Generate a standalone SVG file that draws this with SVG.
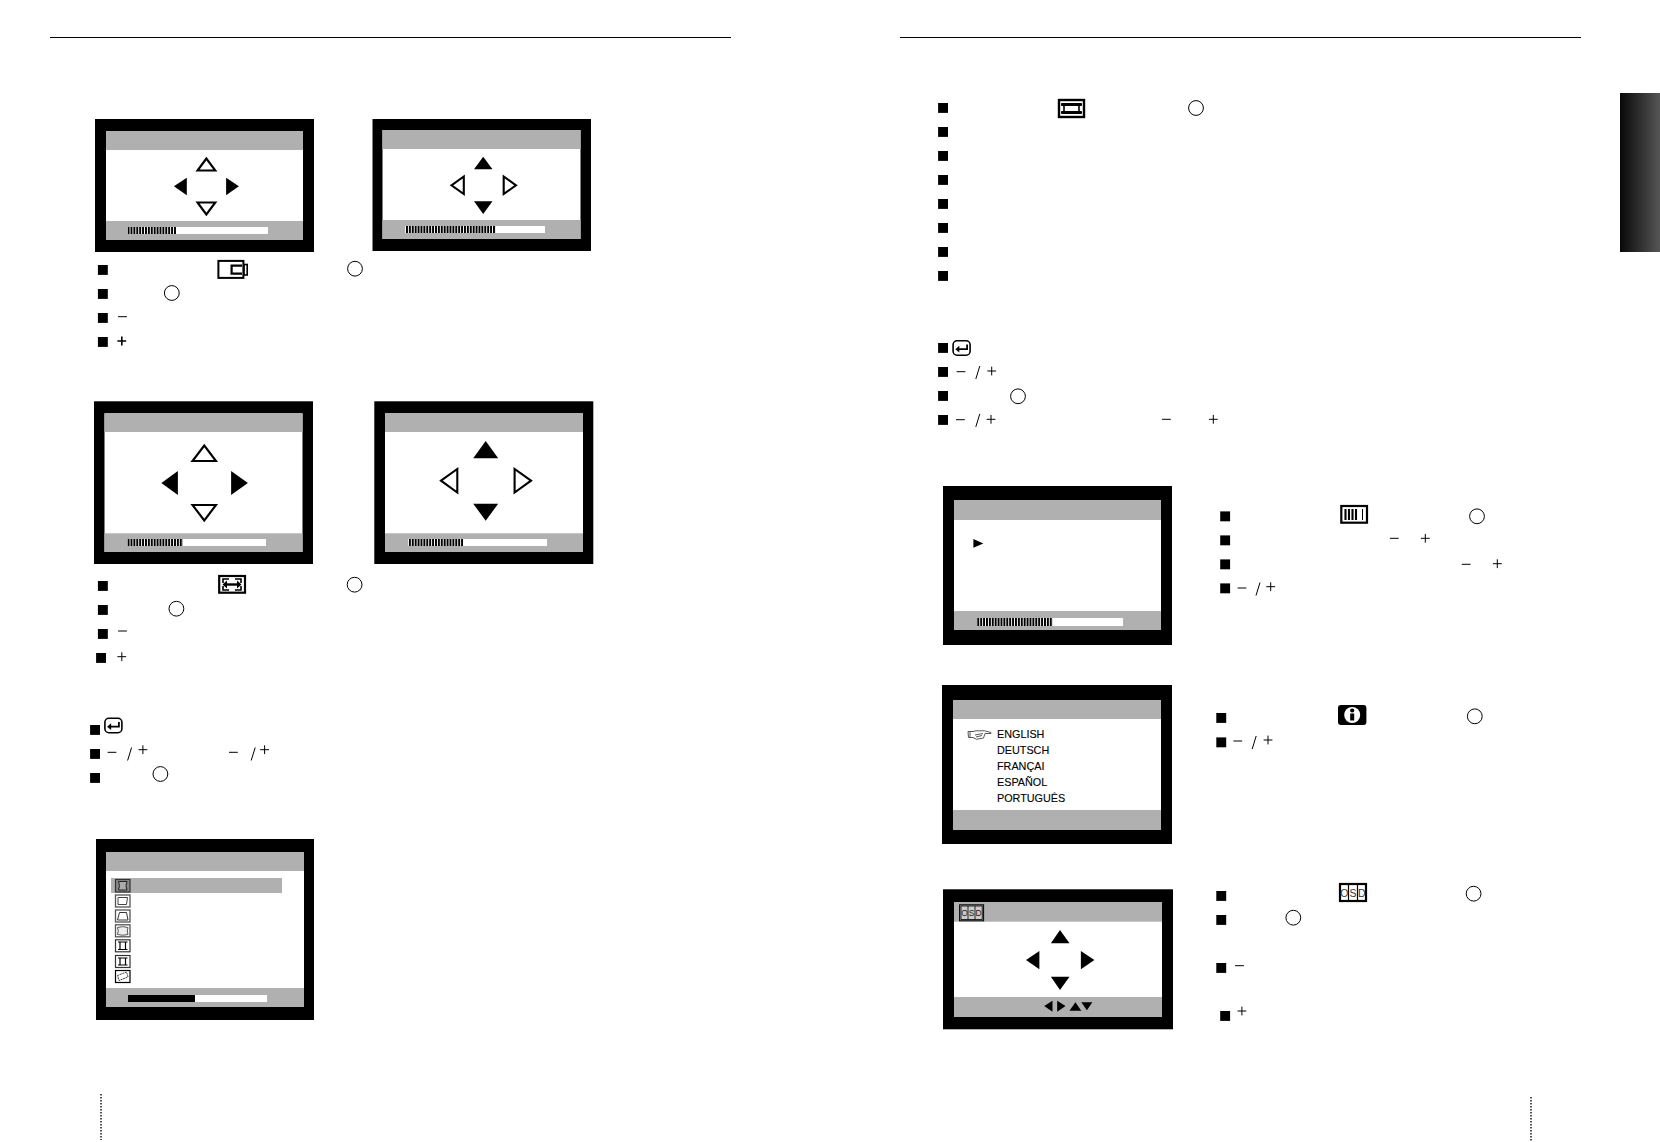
<svg xmlns="http://www.w3.org/2000/svg" width="1660" height="1142" viewBox="0 0 1660 1142">
<style>
.k{fill:#000}
.g{fill:#b0b0b0}
.w{fill:#fff}
.h{fill:url(#hatch)}
.o{fill:#fff;stroke:#000;stroke-width:2.1}
.oo{fill:none;stroke:#000;stroke-width:1}
.i{fill:#fff;stroke:#000;stroke-width:2}
.m{fill:#fff;stroke:#555;stroke-width:1.3}
.s{fill:none;stroke:#000;stroke-width:1}
.d{fill:none;stroke:#333;stroke-width:1.7;stroke-dasharray:1.6 1.4}
.l{font-family:"Liberation Sans",Arial,sans-serif;font-size:10.8px;fill:#000;stroke:#000;stroke-width:.12}
.c{font-family:"Liberation Sans",Arial,sans-serif;font-size:10.5px;fill:#333;text-anchor:middle}
.c2{font-family:"Liberation Sans",Arial,sans-serif;font-size:8.5px;fill:#222;text-anchor:middle}
</style>
<defs>
<pattern id="hatch" patternUnits="userSpaceOnUse" width="2.9" height="10"><rect width="2" height="10" fill="#000"/><rect x="2" width=".9" height="10" fill="#fff"/></pattern>
<linearGradient id="tab" x1="0" x2="1" y1="0" y2="0"><stop offset="0" stop-color="#080808"/><stop offset="1" stop-color="#565656"/></linearGradient>
<rect id="b" x="-.3" y="-.3" width="9.9" height="9.9" fill="#000"/>
<g id="minus"><path class="s" d="M-4.4 0H4.4"/></g>
<g id="plus"><path class="s" d="M-4.4 0H4.4M0-4.4V4.4"/></g>
<g id="slash"><path class="s" d="M-2 6.5L2-6.5"/></g>
<g id="return"><rect x="-8.5" y="-7.2" width="17" height="14.4" rx="4" fill="#fff" stroke="#000" stroke-width="1.6"/><path d="M5.5-3.5V1.2H-4" fill="none" stroke="#000" stroke-width="1.8"/><path d="M-6.3 1.2L-2.3-2.2V4.6Z" fill="#000"/></g>
</defs>
<rect width="1660" height="1142" fill="#fff"/>

<g id="rules">
<rect x="50" y="37" width="681" height="1" fill="#000"/>
<rect x="900" y="37" width="681" height="1" fill="#000"/>
<rect x="1620" y="93" width="40" height="159" fill="url(#tab)"/>
<path class="d" d="M101 1094V1140"/>
<path class="d" d="M1531 1097V1142"/>
</g>

<g id="screen-a">
<rect class="k" x="95" y="119" width="219" height="133"/>
<rect class="w" x="106" y="131" width="197" height="109"/>
<rect class="g" x="106" y="131" width="197" height="19"/>
<rect class="g" x="106" y="221" width="197" height="19"/>
<rect class="w" x="128" y="227" width="140" height="7"/>
<rect class="h" x="128" y="227" width="48" height="7"/>
<path class="o" d="M206.4 158.5L197.5 170.5H215.3Z"/>
<path class="o" d="M206.4 214.5L197.5 202.5H215.3Z"/>
<path class="k" d="M173.9 186.3L186.8 177.7V195.3Z"/>
<path class="k" d="M238.9 186.3L226.1 177.7V195.3Z"/>
</g>

<g id="screen-b">
<rect class="k" x="372.5" y="119" width="218.5" height="132"/>
<rect class="w" x="382.5" y="130" width="198" height="109"/>
<rect class="g" x="382.5" y="130" width="198" height="19"/>
<rect class="g" x="382.5" y="220" width="198" height="19"/>
<rect class="w" x="405" y="226" width="140" height="7"/>
<rect class="h" x="405" y="226" width="91" height="7"/>
<path class="k" d="M483.2 156.7L474 169.3H492.5Z"/>
<path class="k" d="M483.2 214L474 201.3H492.5Z"/>
<path class="o" d="M451.5 185.3L463.8 176.5V194Z"/>
<path class="o" d="M516 185.3L503.7 176.5V194Z"/>
</g>

<g id="list-a">
<use href="#b" x="98.2" y="265.3"/>
<use href="#b" x="98.2" y="289.3"/>
<use href="#b" x="98.2" y="313.3"/>
<use href="#b" x="98.2" y="337.3"/>
<rect class="i" x="218.4" y="260.9" width="25" height="17"/>
<rect x="244" y="264.5" width="3.2" height="10.5" fill="none" stroke="#000" stroke-width="1.6"/>
<path d="M242 265.6H231.6V273.6H242" fill="none" stroke="#000" stroke-width="2.2"/>
<circle class="oo" cx="355" cy="268.7" r="7.4"/>
<circle class="oo" cx="171.8" cy="293" r="7.4"/>
<use href="#minus" x="122.5" y="316.7"/>
<path d="M117.4 341H126.2M121.8 336.6V345.4" fill="none" stroke="#000" stroke-width="1.6"/>
</g>

<g id="screen-c">
<rect class="k" x="94" y="401.3" width="219" height="162.7"/>
<rect class="w" x="104.5" y="413.3" width="198" height="138.7"/>
<rect class="g" x="104.5" y="413.3" width="198" height="18.7"/>
<rect class="g" x="104.5" y="533.3" width="198" height="18.7"/>
<rect class="w" x="127" y="539" width="139" height="7"/>
<rect class="h" x="127" y="539" width="56" height="7"/>
<path class="o" d="M204.3 445.5L192.5 461H216Z"/>
<path class="o" d="M204.3 520.5L192.5 505H216Z"/>
<path class="k" d="M161.4 483L177.9 471V495Z"/>
<path class="k" d="M247.9 483L231.1 471V495Z"/>
</g>

<g id="screen-d">
<rect class="k" x="374.3" y="401.3" width="219" height="162.7"/>
<rect class="w" x="385" y="413.3" width="198" height="138.7"/>
<rect class="g" x="385" y="413.3" width="198" height="18.7"/>
<rect class="g" x="385" y="533.3" width="198" height="18.7"/>
<rect class="w" x="408" y="539" width="139" height="7"/>
<rect class="h" x="408" y="539" width="55" height="7"/>
<path class="k" d="M485.7 441L473.2 458.3H498.2Z"/>
<path class="k" d="M485.7 520.7L473.2 503.7H498.2Z"/>
<path class="o" d="M441 480.7L457.3 469V492.5Z"/>
<path class="o" d="M531 480.7L514.6 469V492.5Z"/>
</g>

<g id="list-b">
<use href="#b" x="98.2" y="581.3"/>
<use href="#b" x="98.2" y="605.3"/>
<use href="#b" x="98.2" y="629.3"/>
<use href="#b" x="96.4" y="653.3"/>
<rect x="219.2" y="576" width="25.8" height="16.7" fill="#fff" stroke="#000" stroke-width="2.2"/>
<path d="M223 583V579H229M235 579H241V583M223 586V590H229M235 590H241V586" fill="none" stroke="#000" stroke-width="1.6"/>
<path d="M225 584.5H239" stroke="#000" stroke-width="2.4"/>
<path d="M222.5 584.5L227 580.5V588.5ZM241.5 584.5L237 580.5V588.5Z" fill="#000"/>
<circle class="oo" cx="354.6" cy="584.7" r="7.4"/>
<circle class="oo" cx="176.4" cy="608.7" r="7.4"/>
<use href="#minus" x="122.5" y="631"/>
<use href="#plus" x="121.8" y="656.7"/>
</g>

<g id="list-c">
<use href="#b" x="90.4" y="725.3"/>
<use href="#b" x="90.4" y="749.3"/>
<use href="#b" x="90.4" y="773.3"/>
<use href="#return" x="113.4" y="725.5"/>
<use href="#minus" x="112" y="752.3"/>
<use href="#slash" x="129.6" y="754"/>
<use href="#plus" x="142.9" y="749.7"/>
<use href="#minus" x="233.4" y="752.3"/>
<use href="#slash" x="253.2" y="754"/>
<use href="#plus" x="264.6" y="749.7"/>
<circle class="oo" cx="160.4" cy="774" r="7.4"/>
</g>

<g id="screen-e">
<rect class="k" x="96" y="839" width="218" height="181"/>
<rect class="w" x="106" y="852" width="198" height="155"/>
<rect class="g" x="106" y="852" width="198" height="19"/>
<rect class="g" x="106" y="988" width="198" height="19"/>
<rect class="w" x="128" y="995" width="139" height="7"/>
<rect class="k" x="128" y="995" width="67" height="7"/>
<rect class="g" x="111" y="878" width="171" height="15"/>
<rect x="115.5" y="879.5" width="14.5" height="12.5" fill="#888" stroke="#333" stroke-width="1.2"/>
<path d="M118.5 881.5Q120.5 885.7 118.5 890H127Q125 885.7 127 881.5Z" fill="#aaa" stroke="#222"/>
<rect class="m" x="115.5" y="895" width="14.5" height="12"/>
<path d="M118 897.5H127.5L126.5 904.5H118Z" fill="#fff" stroke="#444"/>
<rect class="m" x="115.5" y="910" width="14.5" height="12"/>
<path d="M119.5 912.5H126.5L128 920H117.5Z" fill="#fff" stroke="#333"/>
<rect class="m" x="115.5" y="924.8" width="14.5" height="12"/>
<path d="M117.5 927.5Q122.5 925.8 128 927.5Q126.5 931 128 934.5Q122.5 936 117.5 934.5Q119 931 117.5 927.5Z" fill="#eee" stroke="#555"/>
<rect x="115.5" y="939.8" width="14.5" height="12" fill="#fff" stroke="#333" stroke-width="1.2"/>
<path d="M118 942H127.5M118 949.5H127.5M120 942V949.5M125.5 942V949.5" fill="none" stroke="#000" stroke-width="1.2"/>
<rect x="115.5" y="955.5" width="14.5" height="12" fill="#fff" stroke="#333" stroke-width="1.2"/>
<path d="M118 958H127.5M118 965H127.5M120 958V965M125.5 958V965" fill="none" stroke="#000" stroke-width="1.2"/>
<rect x="115.5" y="970.5" width="14.5" height="12" fill="#fff" stroke="#000" stroke-width="1.2"/>
<path d="M117.5 975.5L126.5 972L128 977L119 980.5Z" fill="#fff" stroke="#444" stroke-dasharray="2 .6"/>
</g>

<g id="list-d">
<use href="#b" x="938.4" y="103.3"/>
<use href="#b" x="938.4" y="127.3"/>
<use href="#b" x="938.4" y="151.3"/>
<use href="#b" x="938.4" y="175.3"/>
<use href="#b" x="938.4" y="199.3"/>
<use href="#b" x="938.4" y="223.3"/>
<use href="#b" x="938.4" y="247.3"/>
<use href="#b" x="938.4" y="271.3"/>
<rect x="1059" y="100" width="25" height="17" fill="#fff" stroke="#000" stroke-width="2.4"/>
<path d="M1061.5 103.5H1081.5V105.5H1061.5ZM1061.5 111.5H1081.5V113.5H1061.5Z" fill="#000" stroke="#000"/>
<path d="M1064 105V112M1079 105V112" fill="none" stroke="#000" stroke-width="1.6"/>
<circle class="oo" cx="1196" cy="108" r="7.4"/>
<use href="#b" x="938.4" y="343.3"/>
<use href="#b" x="938.4" y="367.3"/>
<use href="#b" x="938.4" y="391.3"/>
<use href="#b" x="938.4" y="415.3"/>
<use href="#return" x="961.6" y="348"/>
<use href="#minus" x="961" y="371.7"/>
<use href="#slash" x="977.8" y="372.5"/>
<use href="#plus" x="991.7" y="371"/>
<circle class="oo" cx="1018" cy="396.3" r="7.4"/>
<use href="#minus" x="960.4" y="419.7"/>
<use href="#slash" x="977.8" y="420.4"/>
<use href="#plus" x="991" y="419.3"/>
<use href="#minus" x="1166.4" y="419.3"/>
<use href="#plus" x="1213.3" y="419.3"/>
</g>

<g id="screen-f">
<rect class="k" x="943" y="486" width="229" height="159"/>
<rect class="w" x="954" y="500" width="207" height="130"/>
<rect class="g" x="954" y="500" width="207" height="20"/>
<rect class="g" x="954" y="611" width="207" height="19"/>
<rect class="w" x="976" y="618" width="147" height="8"/>
<rect class="h" x="976" y="618" width="76.5" height="8"/>
<path class="k" d="M973.4 539L983.3 543.4L973.4 547.8Z"/>
</g>

<g id="list-f">
<use href="#b" x="1220.5" y="511.7"/>
<use href="#b" x="1220.5" y="535.7"/>
<use href="#b" x="1220.5" y="559.7"/>
<use href="#b" x="1220.5" y="583.7"/>
<rect x="1341.3" y="506" width="25.7" height="16.7" fill="#fff" stroke="#000" stroke-width="2.2"/>
<path d="M1345.5 509V520M1349 509V520M1352.5 509V520M1356 509V520" stroke="#000" stroke-width="2.1" fill="none"/>
<path d="M1362.5 509V520" stroke="#000" stroke-width="1" fill="none"/>
<circle class="oo" cx="1477" cy="516.3" r="7.4"/>
<use href="#minus" x="1394.3" y="538.3"/>
<use href="#plus" x="1425.3" y="538.3"/>
<use href="#minus" x="1466.2" y="564.3"/>
<use href="#plus" x="1497.3" y="563.7"/>
<use href="#minus" x="1242" y="588"/>
<use href="#slash" x="1258" y="589"/>
<use href="#plus" x="1270.7" y="586.7"/>
</g>

<g id="screen-g">
<rect class="k" x="942" y="685" width="230" height="159"/>
<rect class="w" x="953" y="700" width="208" height="130"/>
<rect class="g" x="953" y="700" width="208" height="19"/>
<rect class="g" x="953" y="810" width="208" height="20"/>
<path d="M968 731.5H973L976 730.8H984.5L991 732.5V733.5H985L983.5 738L976.5 739.3L973 737.5H968.5Z" fill="#fff" stroke="#444" stroke-width=".9"/>
<path d="M975 735L983 733.5M976 737L982 735.5M970 732V737" stroke="#444" stroke-width=".9" fill="none"/>
<text class="l" x="997" y="738">ENGLISH</text>
<text class="l" x="997" y="754">DEUTSCH</text>
<text class="l" x="997" y="770">FRANÇAI</text>
<text class="l" x="997" y="786">ESPAÑOL</text>
<text class="l" x="997" y="802">PORTUGUÊS</text>
</g>

<g id="list-g">
<use href="#b" x="1216.6" y="713.3"/>
<use href="#b" x="1216.6" y="737.7"/>
<rect x="1338" y="705" width="28.4" height="20" rx="3" fill="#000"/>
<circle cx="1352.2" cy="715" r="8" fill="#fff"/>
<rect x="1350.2" y="713.5" width="4" height="7" fill="#000"/>
<circle cx="1352.2" cy="710.5" r="2.1" fill="#000"/>
<circle class="oo" cx="1474.8" cy="716.3" r="7.4"/>
<use href="#minus" x="1237.8" y="741"/>
<use href="#slash" x="1254.2" y="742.5"/>
<use href="#plus" x="1268" y="740"/>
</g>

<g id="screen-h">
<rect class="k" x="943" y="889.3" width="230" height="140"/>
<rect class="w" x="954" y="902" width="208" height="114.7"/>
<rect class="g" x="954" y="902" width="208" height="19.7"/>
<rect class="g" x="954" y="997" width="208" height="19.7"/>
<rect x="959.6" y="904.8" width="24" height="16" fill="none" stroke="#000"/>
<rect x="961" y="906" width="21.2" height="13.6" fill="#ccc" stroke="#000" stroke-width=".8"/>
<path d="M968 906V919.6M975 906V919.6" stroke="#000" stroke-width=".8"/>
<text class="c2" x="964.5" y="916">O</text>
<text class="c2" x="971.5" y="916">S</text>
<text class="c2" x="978.5" y="916">D</text>
<path class="k" d="M1060 930L1050.9 943.3H1069.5Z"/>
<path class="k" d="M1060 990L1050.9 976.7H1069.5Z"/>
<path class="k" d="M1026 960L1039.4 951V969.3Z"/>
<path class="k" d="M1094.4 960L1080.9 951V969.3Z"/>
<path class="k" d="M1044.2 1006L1052.5 1000.7V1011.7Z"/>
<path class="k" d="M1065.5 1006L1057.2 1000.7V1011.7Z"/>
<path class="k" d="M1075.4 1002.3L1069.5 1010.7H1081.3Z"/>
<path class="k" d="M1086.9 1010.3L1081.3 1002.3H1092.4Z"/>
</g>

<g id="list-h">
<use href="#b" x="1216.6" y="891.3"/>
<use href="#b" x="1216.6" y="915.3"/>
<use href="#b" x="1216.6" y="963.3"/>
<use href="#b" x="1220.5" y="1011.3"/>
<rect x="1340" y="884" width="26" height="17" fill="#fff" stroke="#000" stroke-width="2.2"/>
<path d="M1348.5 884V901M1357.5 884V901" stroke="#000" stroke-width="1.2"/>
<text class="c" x="1344.3" y="896.5">O</text>
<text class="c" x="1353" y="896.5">S</text>
<text class="c" x="1361.8" y="896.5">D</text>
<circle class="oo" cx="1473.6" cy="893.7" r="7.4"/>
<circle class="oo" cx="1293.3" cy="917.7" r="7.4"/>
<use href="#minus" x="1239.5" y="965.7"/>
<use href="#plus" x="1241.9" y="1011"/>
</g>
</svg>
